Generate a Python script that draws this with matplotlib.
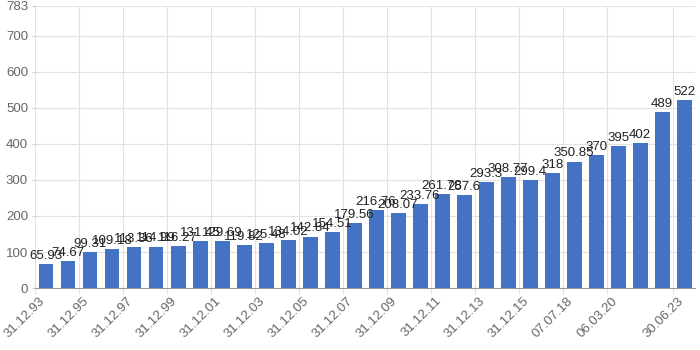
import matplotlib
matplotlib.use("Agg")
import matplotlib.pyplot as plt
import matplotlib.transforms as mtransforms
import numpy as np

# category dates (only every other one is labelled on the axis)
dates = [f"31.12.{y:02d}" for y in list(range(93, 100)) + list(range(0, 17))] + [
    "07.07.18", "31.12.18", "06.03.20", "31.12.21", "31.12.22", "30.06.23"]
values = [65.93, 74.67, 99.31, 109.18, 113.36, 114.99, 116.27, 131.45, 129.69,
          119.82, 125.48, 134.02, 142.84, 154.51, 179.56, 216.76, 208.07, 233.76,
          261.78, 257.6, 293.3, 308.77, 299.4, 318, 350.85, 370, 395, 402, 489, 522]
shown = list(range(0, 27, 2)) + [29]          # indices whose date is printed
yticks = [0, 100, 200, 300, 400, 500, 600, 700, 783]

plt.rcParams["font.family"] = ["Liberation Sans", "DejaVu Sans"]

fig = plt.figure(figsize=(7, 3.5), dpi=100)
ax = fig.add_axes([0.05, 0.177, 0.943, 0.806])

x = np.arange(len(values))
ax.bar(x, values, width=0.68, color="#4472c4", zorder=3)
for xi, v in zip(x, values):
    ax.text(xi, v + 6, f"{v:g}", ha="center", va="bottom", fontsize=9.5,
            color="#222222", zorder=4)

ax.set_xlim(-0.5, len(values) - 0.5)
ax.set_ylim(0, 783)
ax.set_yticks(yticks)
ax.set_yticklabels([str(t) for t in yticks], color="#666666", fontsize=9.5)

# ticks sit on the left edge of each category band; labels drawn by hand
ax.set_xticks([i - 0.5 for i in shown])
ax.set_xticklabels([])
lab_tr = ax.get_xaxis_transform() + mtransforms.ScaledTranslation(
    4 / 100, -7 / 100, fig.dpi_scale_trans)
for i in shown:
    ax.text(i - 0.5, 0, dates[i], transform=lab_tr, rotation=45, ha="right",
            va="top", rotation_mode="anchor", color="#666666", fontsize=9.5,
            clip_on=False)

ax.grid(True, color="#e2e2e2", lw=0.8, zorder=0)
ax.tick_params(axis="x", length=4, color="#e2e2e2", pad=2)
ax.tick_params(axis="y", length=2, color="#cccccc", pad=3)
for s in ["top", "right", "left"]:
    ax.spines[s].set_visible(False)
ax.spines["bottom"].set_color("#999999")

fig.savefig("out.png", dpi=100)
